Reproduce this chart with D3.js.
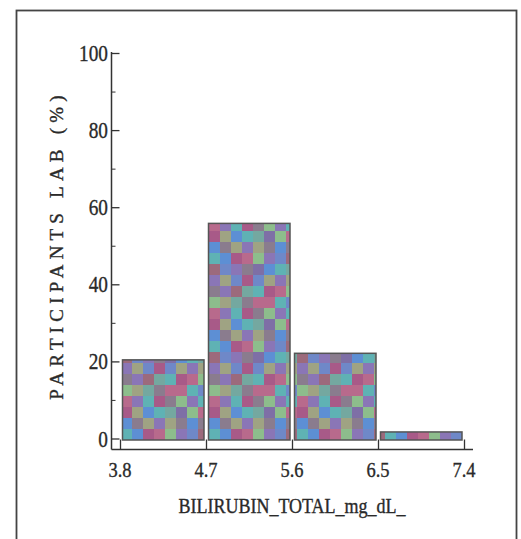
<!DOCTYPE html>
<html>
<head>
<meta charset="utf-8">
<script src="https://cdn.jsdelivr.net/npm/d3@7"></script>
<style>
  html, body { margin: 0; padding: 0; background: #fff; }
  svg { display: block; }
  text { font-family: "Liberation Serif", "Times New Roman", serif; fill: #2a2a2a; stroke: #2a2a2a; stroke-width: 0.35; }
</style>
</head>
<body>
<script>
// ---- data ----
const binEdges = [3.8, 4.7, 5.6, 6.5, 7.4];
const percents = [20.4, 55.8, 22.1, 1.7];
const xTickLabels = ["3.8", "4.7", "5.6", "6.5", "7.4"];
const yTicks = [0, 20, 40, 60, 80, 100];
const yMinorTicks = [10, 30, 50, 70, 90];
const xTitle = "BILIRUBIN_TOTAL_mg_dL_";
const yTitle = "PARTICIPANTS LAB (%)";
// decorative mosaic palette for the bar texture
const mosaic = ["#5d8fd4", "#8a76b6", "#a85a88", "#9c6a7c", "#8dbd8c", "#5fb2b4",
                "#8a7c8e", "#9fa383", "#6f88c8", "#b86a8c", "#74a8a0", "#7e6fa6"];

const W = 521, H = 539;
const svg = d3.select("body").append("svg").attr("width", W).attr("height", H);

// pattern
const defs = svg.append("defs");
const cell = 11, n = 8;
const pat = defs.append("pattern").attr("id", "mosaic")
  .attr("patternUnits", "userSpaceOnUse")
  .attr("width", cell * n).attr("height", cell * n);
for (let i = 0; i < n; i++) {
  for (let j = 0; j < n; j++) {
    pat.append("rect")
      .attr("x", i * cell).attr("y", j * cell)
      .attr("width", cell).attr("height", cell)
      .attr("fill", mosaic[(i * 5 + j * 7 + (i * j) % 5) % mosaic.length]);
  }
}

// frame
svg.append("rect").attr("x", 16.5).attr("y", 10.5).attr("width", 500).attr("height", 560)
  .attr("fill", "none").attr("stroke", "#444").attr("stroke-width", 1.8);

const x = d3.scaleLinear().domain([3.8, 7.4]).range([120, 464]);
const y = d3.scaleLinear().domain([0, 100]).range([438.5, 53]);

// bars
const bins = percents.map((v, i) => ({ lo: binEdges[i], hi: binEdges[i + 1], v }));
svg.append("g").selectAll("rect").data(bins).join("rect")
  .attr("x", d => x(d.lo) + 2.5)
  .attr("width", d => x(d.hi) - x(d.lo) - 4.5)
  .attr("y", d => y(d.v))
  .attr("height", d => y(0) - y(d.v) + 1.5)
  .attr("fill", "url(#mosaic)")
  .attr("stroke", "#555").attr("stroke-width", 1.5);

// y axis
const axisX = 111.5, xAxisY = 449.5;
const yAxis = d3.axisRight(y).tickValues(yTicks).tickSize(8).tickFormat("");
const gy = svg.append("g").attr("transform", `translate(${axisX},0)`).call(yAxis);
gy.select(".domain").remove();
gy.selectAll("line").attr("stroke", "#333").attr("stroke-width", 1.3);
const yMinor = d3.axisRight(y).tickValues(yMinorTicks).tickSize(4).tickFormat("");
const gym = svg.append("g").attr("transform", `translate(${axisX},0)`).call(yMinor);
gym.select(".domain").remove();
gym.selectAll("line").attr("stroke", "#444").attr("stroke-width", 1.1);
svg.append("line").attr("x1", axisX).attr("x2", axisX).attr("y1", y(100) - 1).attr("y2", xAxisY)
  .attr("stroke", "#333").attr("stroke-width", 1.5);
svg.append("g").selectAll("text").data(yTicks).join("text")
  .attr("transform", d => `translate(108,${y(d)}) scale(0.84,1)`)
  .attr("dy", "0.35em")
  .attr("text-anchor", "end").attr("font-size", 23)
  .text(d => d);

// x axis
const xAxis = d3.axisTop(x).tickValues(binEdges).tickSize(10).tickFormat("");
const gx = svg.append("g").attr("transform", `translate(0,${xAxisY})`).call(xAxis);
gx.select(".domain").remove();
gx.selectAll("line").attr("stroke", "#333").attr("stroke-width", 1.3);
svg.append("line").attr("x1", axisX).attr("x2", 473).attr("y1", xAxisY).attr("y2", xAxisY)
  .attr("stroke", "#333").attr("stroke-width", 1.5);
svg.append("g").selectAll("text").data(binEdges).join("text")
  .attr("transform", d => `translate(${x(d)},477) scale(0.84,1)`)
  .attr("text-anchor", "middle").attr("font-size", 22)
  .text((d, i) => xTickLabels[i]);

// titles
svg.append("text").attr("transform", "translate(292,513) scale(0.9,1)")
  .attr("text-anchor", "middle").attr("font-size", 20)
  .text(xTitle);
svg.append("text")
  .attr("transform", "translate(63,245) rotate(-90)")
  .attr("text-anchor", "middle").attr("font-size", 19)
  .attr("letter-spacing", 5.2)
  .text(yTitle);
</script>
</body>
</html>
